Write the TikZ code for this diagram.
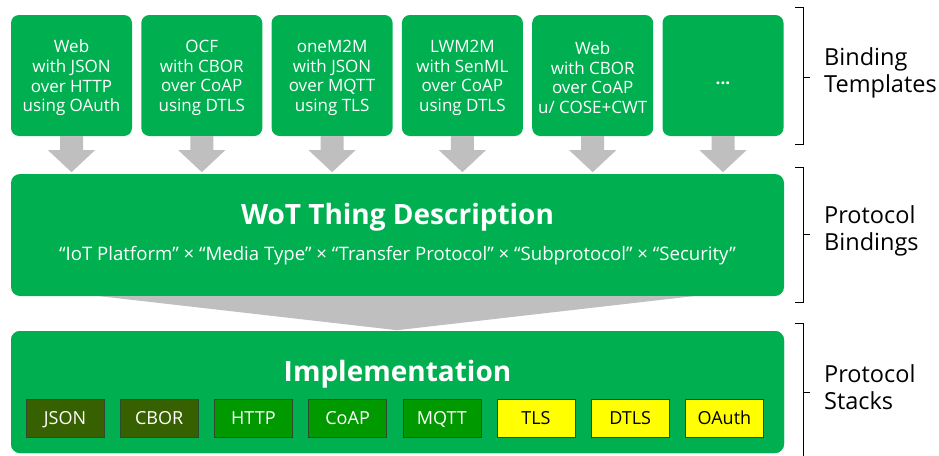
\documentclass[tikz,border=0pt]{standalone}
\usepackage{fontspec}
\setmainfont{Open Sans}
\usetikzlibrary{calc}
\definecolor{wotgreen}{HTML}{00B050}
\definecolor{flowgray}{HTML}{BFBFBF}
\definecolor{fmtgreen}{HTML}{376100}
\definecolor{protogreen}{HTML}{009900}
\definecolor{secyellow}{HTML}{FFFF00}
\definecolor{chipline}{HTML}{2F4A2F}
\tikzset{
  template/.style={fill=wotgreen, rounded corners=8pt, minimum width=121pt,
    minimum height=121pt, inner sep=0pt},
  templatetext/.style={text=white, align=center, inner sep=0pt,
    font=\fontsize{17}{19.7}\selectfont},
  layer/.style={fill=wotgreen, rounded corners=9pt, minimum width=773pt,
    minimum height=122pt, inner sep=0pt},
  chip/.style={draw=chipline, line width=0.6pt, minimum width=78pt,
    minimum height=38pt, inner sep=0pt, text height=12.9pt, text depth=0pt,
    font=\fontsize{18}{20}\selectfont},
  fmtchip/.style={chip, fill=fmtgreen, text=white},
  protochip/.style={chip, fill=protogreen, text=white},
  secchip/.style={chip, fill=secyellow, text=black},
  flow/.style={fill=flowgray},
  bracket/.style={draw=black, line width=0.9pt},
  sidelabel/.style={anchor=west, align=left, inner sep=0pt,
    font=\fontsize{23.5}{27}\selectfont}
}
\begin{document}
\begin{tikzpicture}[x=1pt, y=-1pt]
\useasboundingbox (0,0) rectangle (939,455);

% layer boxes
\node[layer] (td) at (397.5,235) {};
\node[layer] (impl) at (397.5,392) {};

% funnel from the description into the implementation
\fill[flow] ($(td.south)+(-297.5,0)$) -- ($(td.south)+(295.5,0)$)
  -- ($(td.south)+(-0.5,34)$) -- cycle;
\node[layer] at (impl) {};

% binding templates with their arrows
\foreach \i/\dy/\txt in {1/2.5/{Web\\with JSON\\over HTTP\\using OAuth},
                         2/2.5/{OCF\\with CBOR\\over CoAP\\using DTLS},
                         3/2.5/{oneM2M\\with JSON\\over MQTT\\using TLS},
                         4/2.5/{LWM2M\\with SenML\\over CoAP\\using DTLS},
                         5/2.0/{Web\\with CBOR\\over CoAP\\u/ COSE+CWT},
                         6/7.5/{\bfseries ...}} {
  \node[template] (b\i) at ({71.5+(\i-1)*130.3},75.5) {};
  \node[templatetext] (t\i) at ($(b\i)+(0,\dy)$) {\txt};
  \fill[flow] ($(b\i.south)+(-11.5,0)$) -- ++(0,14) -- ++(-12,0)
    -- ($(b\i.south)+(0,36)$) -- ($(b\i.south)+(23.5,14)$)
    -- ++(-12,0) -- ($(b\i.south)+(11.5,0)$) -- cycle;
}

% layer titles
\node[text=white, font=\bfseries\fontsize{28}{32}\selectfont] (tdtitle)
  at (397.5,217) {WoT Thing Description};
\node[text=white, font=\fontsize{18.6}{22}\selectfont] (tdsub) at (397.5,255.5)
  {“IoT Platform” × “Media Type” × “Transfer Protocol” × “Subprotocol” × “Security”};
\node[text=white, font=\bfseries\fontsize{28}{32}\selectfont] (impltitle)
  at (397.5,374) {Implementation};

% protocol stack chips
\node[fmtchip]   (json)  at (65,418)    {JSON};
\node[fmtchip]   (cbor)  at (159.2,418) {CBOR};
\node[protochip] (http)  at (253.4,418) {HTTP};
\node[protochip] (coap)  at (347.6,418) {CoAP};
\node[protochip] (mqtt)  at (441.8,418) {MQTT};
\node[secchip]   (tls)   at (536,418)   {TLS};
\node[secchip]   (dtls)  at (630.2,418) {DTLS};
\node[secchip]   (oauth) at (724.4,418) {OAuth};

% brackets on the right
\coordinate (br1t) at (803,7);   \coordinate (br1b) at (803,144);
\coordinate (br2t) at (803,167); \coordinate (br2b) at (803,302);
\coordinate (br3t) at (803,323); \coordinate (br3b) at (803,462);
\foreach \k/\m in {1/77,2/234,3/392} {
  \draw[bracket] ($(br\k t)+(-8,0)$) -- (br\k t) -- (br\k b) -- ++(-8,0);
  \draw[bracket] (803,\m) -- ++(7,0);
}
\node[sidelabel] (lbl1) at (824,72.5) {Binding\\Templates};
\node[sidelabel] (lbl2) at (824,231)  {Protocol\\Bindings};
\node[sidelabel] (lbl3) at (824,387)  {Protocol\\Stacks};
\end{tikzpicture}
\end{document}
